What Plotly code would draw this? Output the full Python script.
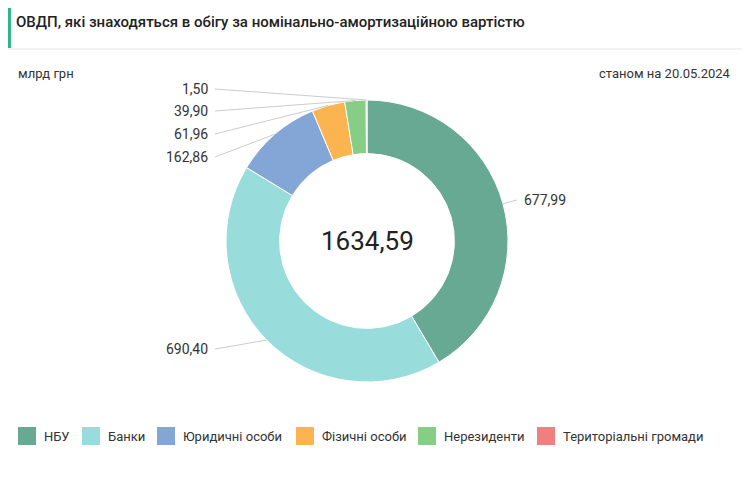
import math
import plotly.graph_objects as go

categories = ["НБУ", "Банки", "Юридичні особи", "Фізичні особи", "Нерезиденти", "Територіальні громади"]
values = [677.99, 690.40, 162.86, 61.96, 39.90, 1.50]
value_labels = ["677,99", "690,40", "162,86", "61,96", "39,90", "1,50"]
total_label = "1634,59"
colors = ["#68a994", "#99dcdc", "#84a6d6", "#fbb450", "#86cd86", "#f08080"]

OFF = 8  # page body margin
W, H = 750 - 2 * OFF, 482 - 2 * OFF
cx, cy, R = 367, 241, 141

def px(x, y):
    return (x - OFF) / W, 1 - (y - OFF) / H

fig = go.Figure(go.Pie(
    labels=categories, values=values, hole=0.62, sort=False, direction="clockwise",
    rotation=0, marker=dict(colors=colors, line=dict(color="white", width=1)),
    textinfo="none", hoverinfo="label+value", showlegend=False,
    domain=dict(x=[px(cx - R, 0)[0], px(cx + R, 0)[0]], y=[px(0, cy + R)[1], px(0, cy - R)[1]]),
))

label_pos = {0: (522, 200, "left"), 1: (210, 349, "right"), 2: (210, 157, "right"),
             3: (210, 134, "right"), 4: (210, 111, "right"), 5: (210, 89, "right")}
shapes, anns = [], []
total = sum(values)
cum = 0
for i, v in enumerate(values):
    mid = (cum + v / 2) / total * 2 * math.pi
    cum += v
    ex, ey = cx + R * math.sin(mid), cy - R * math.cos(mid)
    lx, ly, side = label_pos[i]
    sx = lx - 5 if side == "left" else lx + 5
    x0, y0 = px(sx, ly); x1, y1 = px(ex, ey)
    shapes.append(dict(type="line", xref="paper", yref="paper", x0=x0, y0=y0, x1=x1, y1=y1,
                       line=dict(color="#cccccc", width=1)))
    ax, ay = px(lx, ly)
    anns.append(dict(x=ax, y=ay, xref="paper", yref="paper", text=value_labels[i], showarrow=False,
                     xanchor=side, yanchor="middle", font=dict(size=14, color="#333")))

def txt(x, y, text, xa, size, weight="normal", color="#333"):
    ax, ay = px(x, y)
    anns.append(dict(x=ax, y=ay, xref="paper", yref="paper", text=text, showarrow=False,
                     xanchor=xa, yanchor="middle", font=dict(size=size, color=color, weight=weight)))

txt(cx, cy, total_label, "center", 26, color="#222")
txt(14, 22, "ОВДП, які знаходяться в обігу за номінально-амортизаційною вартістю", "left", 15, 500, "#222")
txt(16, 73, "млрд грн", "left", 13)
txt(733, 73, "станом на 20.05.2024", "right", 13)

gx0, gy0 = px(0, 48)
shapes.append(dict(type="rect", xref="paper", yref="paper", x0=0, x1=0.004, y0=gy0, y1=1,
                   fillcolor="#2bb58a", line=dict(width=0)))
ly_ = px(0, 49)[1]
shapes.append(dict(type="line", xref="paper", yref="paper", x0=0, x1=1, y0=ly_, y1=ly_,
                   line=dict(color="#e6e6e6", width=1)))

# custom single-row legend
legend_x = [18, 82, 157, 296, 418, 537]
LY = 436
for i, name in enumerate(categories):
    x = legend_x[i]
    a0, b0 = px(x, LY + 9); a1, b1 = px(x + 18, LY - 9)
    shapes.append(dict(type="rect", xref="paper", yref="paper", x0=a0, x1=a1, y0=b0, y1=b1,
                       fillcolor=colors[i], line=dict(width=0)))
    txt(x + 24, LY, name, "left", 13)

fig.update_layout(
    width=W, height=H, margin=dict(l=0, r=0, t=0, b=0), paper_bgcolor="white",
    font=dict(family="Roboto", color="#333"),
    shapes=shapes, annotations=anns,
)
fig.write_html("out.html")
